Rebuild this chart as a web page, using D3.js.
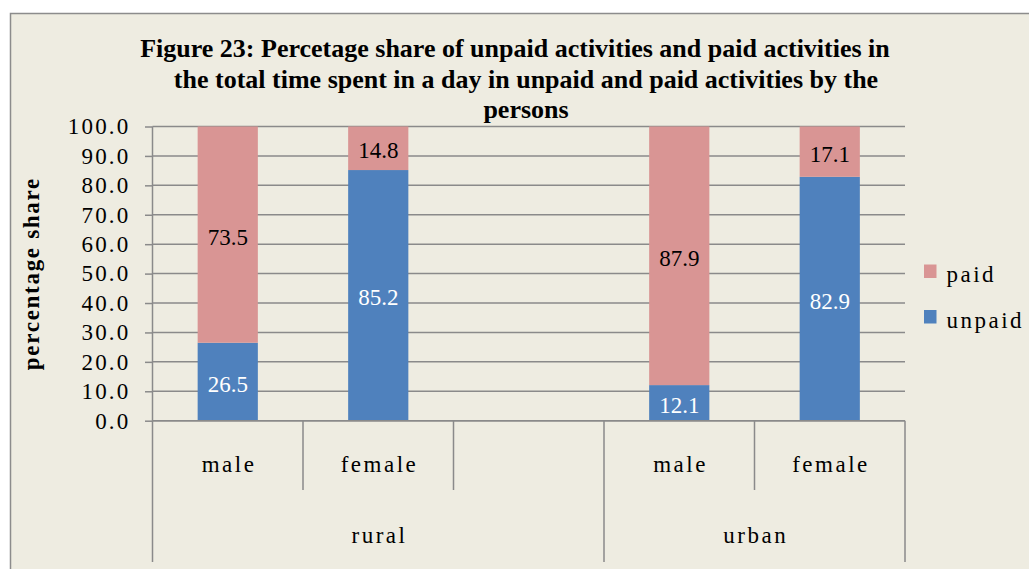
<!DOCTYPE html>
<html>
<head>
<meta charset="utf-8">
<script src="https://cdn.jsdelivr.net/npm/d3@7"></script>
<style>
  html, body { margin: 0; padding: 0; background: #ffffff; }
  svg { display: block; }
  text { font-family: "Liberation Serif", "Times New Roman", serif; }
</style>
</head>
<body>
<svg id="chart" width="1029" height="569"></svg>
<script>
// ---- data ----
const subCategories = ["male", "female", "", "male", "female"];
const groupNames = ["rural", "urban"];
const groupSpans = [3, 2];               // number of slots under each group
const unpaid = [26.5, 85.2, null, 12.1, 82.9];
const paid   = [73.5, 14.8, null, 87.9, 17.1];
const seriesNames = ["paid", "unpaid"];
const yTicks = [0, 10, 20, 30, 40, 50, 60, 70, 80, 90, 100];
const titleLines = [
  "Figure 23: Percetage share of unpaid activities and paid activities in",
  "the total time spent in a day in unpaid and paid activities by the",
  "persons"
];
const yTitle = "percentage share";

// ---- styles ----
const colors = { unpaid: "#4F81BD", paid: "#D99594" };
const gridColor = "#8a8a8a";
const bg = "#EEECE1";
const FONT = 23;
const SPACED = 2.5;   // letter spacing used for axis / legend words

const svg = d3.select("#chart");

// chart area background with its frame (frame runs off the right/bottom edges)
svg.append("rect")
  .attr("x", 10.5).attr("y", 13.5)
  .attr("width", 1100).attr("height", 700)
  .attr("fill", bg).attr("stroke", "#8c8c8c").attr("stroke-width", 1.5);

const plot = { left: 152.5, right: 905, top: 126.5, bottom: 420.7 };

const x = d3.scaleBand()
  .domain(d3.range(subCategories.length))
  .range([plot.left, plot.right])
  .paddingInner(0).paddingOuter(0);

const y = d3.scaleLinear().domain([0, 100]).range([plot.bottom, plot.top]);

// title (first line carries a trailing space, so it sits slightly left)
svg.append("g").selectAll("text")
  .data(titleLines)
  .join("text")
  .attr("x", 526)
  .attr("dx", (d, i) => i === 0 ? -11 : 0)
  .attr("y", (d, i) => 57 + i * 30.5)
  .attr("text-anchor", "middle")
  .attr("font-size", 26)
  .attr("font-weight", "bold")
  .attr("fill", "#000")
  .text(d => d);

// horizontal gridlines
svg.append("g").selectAll("line")
  .data(yTicks)
  .join("line")
  .attr("x1", plot.left).attr("x2", plot.right)
  .attr("y1", d => y(d)).attr("y2", d => y(d))
  .attr("stroke", gridColor).attr("stroke-width", 1.5);

// y axis with ticks and labels
const yAxis = d3.axisLeft(y)
  .tickValues(yTicks)
  .tickFormat(d3.format(".1f"))
  .tickSize(7.5)
  .tickPadding(14.5);

const yg = svg.append("g")
  .attr("transform", `translate(${plot.left},0)`)
  .call(yAxis);
yg.select(".domain").remove();
yg.selectAll(".tick line").attr("stroke", gridColor).attr("stroke-width", 1.5);
yg.selectAll(".tick text")
  .attr("font-size", FONT)
  .attr("letter-spacing", 2.2)
  .attr("fill", "#000");

// y axis title
svg.append("text")
  .attr("transform", `translate(39,${(plot.top + plot.bottom) / 2}) rotate(-90)`)
  .attr("text-anchor", "middle")
  .attr("font-size", FONT)
  .attr("font-weight", "bold")
  .attr("letter-spacing", 1.7)
  .attr("fill", "#000")
  .text(yTitle);

// stacked bars
const barW = x.bandwidth() * 0.4;
const rows = subCategories.map((c, i) => ({ i, unpaid: unpaid[i], paid: paid[i] }))
  .filter(d => d.unpaid != null);
const stack = d3.stack().keys(["unpaid", "paid"])(rows);

const barG = svg.append("g");
stack.forEach(layer => {
  barG.append("g").selectAll("rect")
    .data(layer)
    .join("rect")
    .attr("x", d => x(d.data.i) + (x.bandwidth() - barW) / 2)
    .attr("width", barW)
    .attr("y", d => y(d[1]))
    .attr("height", d => y(d[0]) - y(d[1]))
    .attr("fill", colors[layer.key]);

  barG.append("g").selectAll("text")
    .data(layer)
    .join("text")
    .attr("x", d => x(d.data.i) + x.bandwidth() / 2)
    .attr("y", d => (y(d[0]) + y(d[1])) / 2)
    .attr("dy", "0.44em")
    .attr("text-anchor", "middle")
    .attr("font-size", FONT)
    .attr("fill", layer.key === "unpaid" ? "#ffffff" : "#000000")
    .text(d => d3.format(".1f")(d.data[layer.key]));
});

// baseline (category axis line)
svg.append("line")
  .attr("x1", plot.left).attr("x2", plot.right)
  .attr("y1", y(0)).attr("y2", y(0))
  .attr("stroke", gridColor).attr("stroke-width", 1.5);

// vertical value-axis line
svg.append("line")
  .attr("x1", plot.left).attr("x2", plot.left)
  .attr("y1", plot.top).attr("y2", y(0))
  .attr("stroke", gridColor).attr("stroke-width", 1.5);

// multi-level category axis
const subBottom = 490, groupBottom = 562;
const groupStarts = groupSpans.map((s, k) => d3.sum(groupSpans.slice(0, k)));
const groupBounds = new Set([...groupStarts, subCategories.length]);
const bounds = d3.range(subCategories.length + 1);
svg.append("g").selectAll("line")
  .data(bounds)
  .join("line")
  .attr("x1", b => plot.left + b * x.step())
  .attr("x2", b => plot.left + b * x.step())
  .attr("y1", y(0))
  .attr("y2", b => groupBounds.has(b) ? groupBottom : subBottom)
  .attr("stroke", gridColor).attr("stroke-width", 1.5);

svg.append("g").selectAll("text")
  .data(subCategories)
  .join("text")
  .attr("x", (d, i) => x(i) + x.bandwidth() / 2)
  .attr("dx", SPACED / 2)
  .attr("y", 472)
  .attr("text-anchor", "middle")
  .attr("font-size", FONT)
  .attr("letter-spacing", SPACED)
  .attr("fill", "#000")
  .text(d => d);

svg.append("g").selectAll("text")
  .data(groupNames)
  .join("text")
  .attr("x", (d, k) => plot.left + (groupStarts[k] + groupSpans[k] / 2) * x.step())
  .attr("dx", SPACED / 2)
  .attr("y", 543)
  .attr("text-anchor", "middle")
  .attr("font-size", FONT)
  .attr("letter-spacing", SPACED)
  .attr("fill", "#000")
  .text(d => d);

// legend
const legend = svg.append("g").attr("transform", "translate(924,264.5)");
const li = legend.selectAll("g")
  .data(seriesNames)
  .join("g")
  .attr("transform", (d, i) => `translate(0,${i * 45.5})`);
li.append("rect")
  .attr("width", 12.5).attr("height", 13.5)
  .attr("fill", d => colors[d]);
li.append("text")
  .attr("x", 22.5).attr("y", 17.5)
  .attr("font-size", FONT)
  .attr("letter-spacing", SPACED)
  .attr("fill", "#000")
  .text(d => d);
</script>
</body>
</html>
